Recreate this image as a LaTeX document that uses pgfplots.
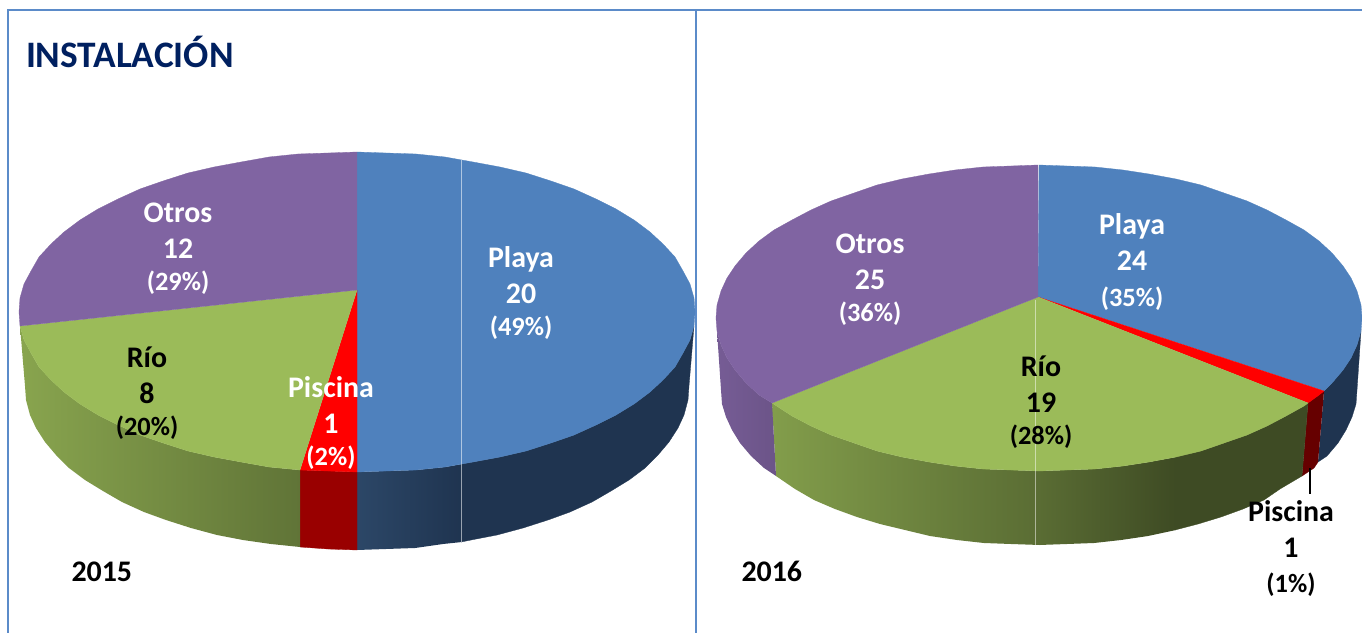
\documentclass[border=0pt]{standalone}
\usepackage{fontspec}
\setmainfont{Carlito}
\usepackage{pgfplots}
\pgfplotsset{compat=1.18}
\definecolor{frameb}{HTML}{5B8BC9}
\definecolor{titleb}{HTML}{002060}
\definecolor{pblue}{HTML}{4F81BD}
\definecolor{pred}{HTML}{FF0000}
\definecolor{pgreen}{HTML}{9BBB59}
\definecolor{ppurple}{HTML}{8064A2}
\definecolor{sblue}{HTML}{1F3450}
\definecolor{sblueb}{HTML}{2C4767}
\definecolor{sred}{HTML}{990000}
\definecolor{sredb}{HTML}{660000}
\newcommand{\lab}[5]{% x, baseline of first line, colour, name, value
  \node[anchor=base,text=#3,font=\bfseries\fontsize{30}{30}\selectfont] at (axis cs:#1,#2) {#4};
  \node[anchor=base,text=#3,font=\bfseries\fontsize{30}{30}\selectfont] at (axis cs:#1,#2+36) {#5};
}
\newcommand{\pct}[4]{\node[anchor=base,text=#3,font=\bfseries\fontsize{26.5}{26.5}\selectfont] at (axis cs:#1,#2) {#4};}
\pgfplotsset{face/.style={fill=#1,draw=#1,line width=0.3pt}}
\begin{document}
\begin{tikzpicture}
\begin{axis}[width=1362bp,height=633bp,scale only axis,xmin=0,xmax=1362,ymin=0,ymax=633,y dir=reverse,hide axis,clip=true]

% hidden axis draws nothing, so the page needs this
\fill[white] (rel axis cs:0,0) rectangle (rel axis cs:1,1);

% frame
\addplot[frameb,line width=2.4pt] coordinates {(8,633) (8,10) (1362,10)};
\addplot[frameb,line width=2.4pt] coordinates {(696,10) (696,633)};

% 2015, sides
\addplot[draw=none,left color=sblueb,right color=sblue] coordinates {(357,472) (386,471) (416,470) (445,467) (462,464) (462,542) (443,544) (415,548) (386,549) (357,550)};
\addplot[face=sblue] coordinates {(461,464) (473,462) (500,457) (526,451) (551,443) (574,435) (596,425) (616,415) (634,404) (650,392) (663,380) (675,367) (683,353) (690,340) (694,326) (689,386) (688,400) (684,415) (678,428) (669,442) (658,455) (645,468) (629,480) (611,491) (592,502) (570,512) (548,520) (523,528) (497,535) (471,540) (461,542)};
\addplot[face=sred] coordinates {(300,470) (328,471) (357,472) (357,550) (328,549) (300,547)};
\addplot[draw=none,left color=pgreen!88!black,right color=pgreen!62!black] coordinates {(300,470) (269,467) (241,462) (214,457) (188,451) (163,443) (140,435) (118,425) (98,415) (80,404) (64,392) (51,380) (39,367) (31,353) (24,340) (20,326) (25,386) (26,400) (30,415) (36,428) (45,442) (56,455) (69,468) (85,480) (103,491) (122,502) (144,512) (166,520) (191,528) (217,535) (243,540) (271,544) (300,547)};

% 2015, top face
\addplot[face=pblue] coordinates {(357,290) (357,152) (386,153) (416,154) (445,157) (473,162) (500,167) (526,173) (551,181) (574,189) (596,199) (616,209) (634,220) (650,232) (663,244) (675,257) (683,271) (690,284) (694,298) (695,312) (694,326) (690,340) (683,353) (675,367) (663,380) (650,392) (634,404) (616,415) (596,425) (574,435) (551,443) (526,451) (500,457) (473,462) (445,467) (416,470) (386,471) (357,472)};
\addplot[face=pred] coordinates {(357,290) (357,472) (328,471) (300,470)};
\addplot[face=pgreen] coordinates {(357,290) (300,470) (269,467) (241,462) (214,457) (188,451) (163,443) (140,435) (118,425) (98,415) (80,404) (64,392) (51,380) (39,367) (31,353) (24,340) (20,326)};
\addplot[face=ppurple] coordinates {(357,290) (20,326) (19,312) (20,298) (24,284) (31,271) (39,257) (51,244) (64,232) (80,220) (98,209) (118,199) (140,189) (163,181) (188,173) (214,167) (241,162) (269,157) (298,154) (328,153) (357,152)};
\addplot[white,opacity=0.55,line width=0.8pt] coordinates {(461,160) (461,542)};

% 2016, sides
\addplot[face=sblue] coordinates {(1324,391) (1332,383) (1343,370) (1351,358) (1357,345) (1361,331) (1357,390) (1356,404) (1352,417) (1346,430) (1338,443) (1327,456) (1318,462)};
\addplot[face=sredb] coordinates {(1324,391) (1319,395) (1308,403) (1302,476) (1314,468) (1318,462)};
\addplot[face=pgreen!40!black] coordinates {(1175,457) (1201,451) (1224,443) (1247,435) (1267,426) (1286,416) (1304,406) (1308,403) (1302,476) (1280,489) (1264,500) (1243,509) (1221,517) (1198,524) (1175,530)};
\addplot[draw=none,left color=pgreen!58!black,right color=pgreen!40!black] coordinates {(1039,471) (1067,470) (1095,469) (1123,466) (1149,462) (1176,457) (1176,530) (1148,536) (1121,540) (1094,543) (1067,544) (1039,545)};
\addplot[draw=none,left color=pgreen!84!black,right color=pgreen!58!black] coordinates {(772,403) (792,416) (811,426) (831,435) (854,443) (877,451) (902,457) (929,462) (955,466) (983,469) (1011,470) (1040,471) (1040,545) (1011,544) (984,543) (957,540) (930,536) (905,530) (880,524) (857,517) (835,509) (814,500) (795,489) (776,476)};
\addplot[draw=none,left color=ppurple!92!black,right color=ppurple!84!black] coordinates {(772,403) (759,395) (746,383) (735,370) (727,358) (721,345) (717,331) (721,390) (722,404) (726,417) (732,430) (740,443) (751,456) (764,468) (776,476)};

% 2016, top face
\addplot[face=pblue] coordinates {(1038,297) (1039,165) (1067,166) (1095,167) (1123,170) (1149,174) (1176,179) (1201,185) (1224,193) (1247,201) (1267,210) (1286,220) (1304,230) (1319,241) (1332,253) (1343,266) (1351,278) (1357,291) (1361,305) (1362,318) (1361,331) (1357,345) (1351,358) (1343,370) (1332,383) (1324,391)};
\addplot[face=pred] coordinates {(1038,297) (1324,391) (1319,395) (1308,403)};
\addplot[face=pgreen] coordinates {(1038,297) (1308,403) (1304,406) (1286,416) (1267,426) (1247,435) (1224,443) (1201,451) (1176,457) (1149,462) (1123,466) (1095,469) (1067,470) (1039,471) (1011,470) (983,469) (955,466) (929,462) (902,457) (877,451) (854,443) (831,435) (811,426) (792,416) (772,403)};
\addplot[face=ppurple] coordinates {(1038,297) (772,403) (759,395) (746,383) (735,370) (727,358) (721,345) (717,331) (716,318) (717,305) (721,291) (727,278) (735,266) (746,253) (759,241) (774,230) (792,220) (811,210) (831,201) (854,193) (877,185) (902,179) (929,174) (955,170) (983,167) (1011,166) (1038,165)};
\addplot[white,opacity=0.5,line width=0.8pt] coordinates {(1035,300) (1035,545)};
\addplot[black,line width=2.2pt] coordinates {(1310,468) (1310,494)};

% text
\node[anchor=base west,text=titleb,font=\bfseries\fontsize{37.5}{37.5}\selectfont] at (axis cs:22.5,68) {INSTALACIÓN};
\node[anchor=base west,font=\bfseries\fontsize{30}{30}\selectfont] at (axis cs:68,581) {2015};
\node[anchor=base west,font=\bfseries\fontsize{30}{30}\selectfont] at (axis cs:738,581) {2016};

\lab{521}{267}{white}{Playa}{20}
\pct{521}{335}{white}{(49\%)}
\lab{178}{222}{white}{Otros}{12}
\pct{178}{290}{white}{(29\%)}
\lab{147}{367}{black}{Río}{8}
\pct{147}{435}{black}{(20\%)}
\lab{331}{397}{white}{Piscina}{1}
\pct{331}{465}{white}{(2\%)}

\lab{1132}{234}{white}{Playa}{24}
\pct{1132}{306}{white}{(35\%)}
\lab{870}{253}{white}{Otros}{25}
\pct{870}{321}{white}{(36\%)}
\lab{1041}{376}{black}{Río}{19}
\pct{1041}{444}{black}{(28\%)}
\lab{1291}{521}{black}{Piscina}{1}
\pct{1291}{592}{black}{(1\%)}
\end{axis}
\end{tikzpicture}
\end{document}
